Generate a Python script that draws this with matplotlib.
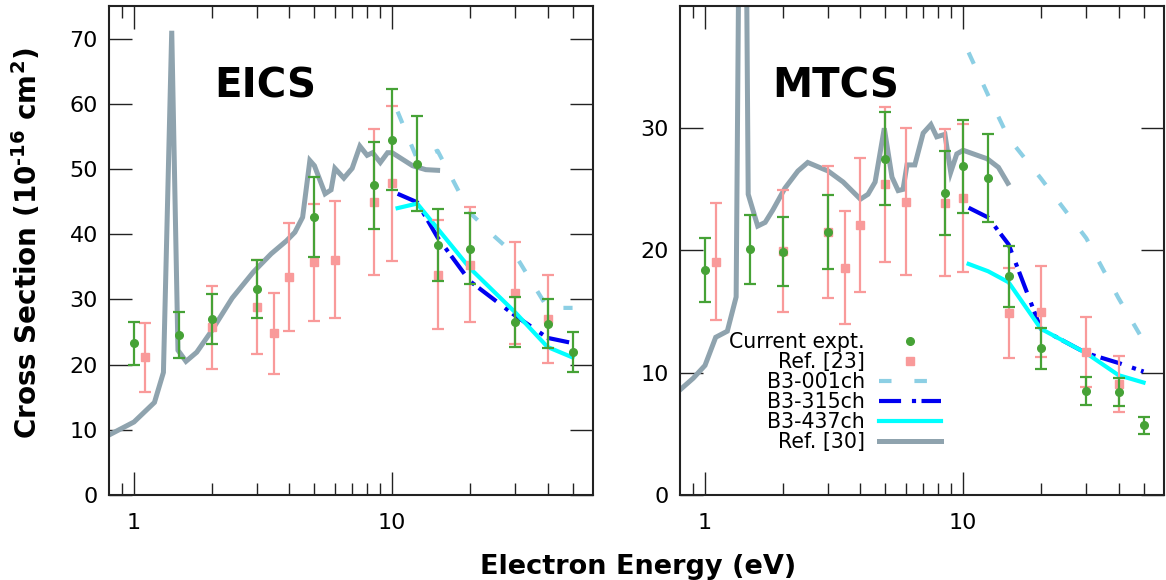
import matplotlib
matplotlib.use("Agg")
import matplotlib.pyplot as plt
from matplotlib.lines import Line2D
from matplotlib.ticker import FixedLocator, NullFormatter, FixedFormatter

plt.rcParams['font.family'] = ['DejaVu Sans']

# ---------------- data: EICS (left panel) ----------------
eics_exp_E = [1.0, 1.5, 2.0, 3.0, 5.0, 8.5, 10.0, 12.5, 15.0, 20.0, 30.0, 40.0, 50.0]
eics_exp_v = [23.3, 24.5, 27.0, 31.6, 42.6, 47.5, 54.5, 50.8, 38.3, 37.8, 26.5, 26.3, 21.9]
eics_exp_err = [3.3, 3.5, 3.9, 4.5, 6.1, 6.7, 7.7, 7.3, 5.5, 5.4, 3.8, 3.7, 3.1]

eics_r23_E = [1.1, 2.0, 3.0, 3.5, 4.0, 5.0, 6.0, 8.5, 10.0, 15.0, 20.0, 30.0, 40.0]
eics_r23_v = [21.1, 25.7, 28.9, 24.8, 33.4, 35.7, 36.1, 44.9, 47.8, 33.8, 35.3, 31.0, 27.0]
eics_r23_err = [5.3, 6.4, 7.2, 6.2, 8.3, 9.0, 9.0, 11.2, 11.9, 8.4, 8.8, 7.8, 6.7]

eics_001_E = [10.5, 12.5, 15.0, 20.0, 25.0, 30.0, 40.0, 50.0]
eics_001_v = [58.8, 51.5, 52.8, 43.3, 39.6, 36.8, 28.7, 28.7]
eics_315_E = [10.5, 12.5, 15.0, 20.0, 30.0, 40.0, 50.0]
eics_315_v = [46.2, 44.9, 39.5, 32.8, 27.5, 24.1, 23.3]
eics_437_E = [10.5, 12.5, 20.0, 30.0, 40.0, 50.0]
eics_437_v = [44.0, 44.7, 34.8, 28.0, 22.7, 21.1]

eics_r30_E = [0.8, 1.0, 1.2, 1.3, 1.4, 1.48, 1.59, 1.75, 2.0, 2.4, 2.9, 3.4, 3.9, 4.2,
              4.5, 4.8, 5.0, 5.5, 5.8, 6.0, 6.5, 7.0, 7.5, 8.0, 8.4, 9.0, 9.6, 10.0,
              12.0, 13.5, 15.0]
eics_r30_v = [9.2, 11.2, 14.2, 18.8, 71.2, 22.2, 20.5, 21.9, 25.2, 30.2, 34.2, 37.0, 39.0, 40.3,
              42.6, 51.3, 50.5, 46.2, 46.8, 50.1, 48.6, 50.1, 53.5, 52.1, 52.5, 51.0, 52.5, 52.5,
              50.5, 49.9, 49.8]

# ---------------- data: MTCS (right panel) ----------------
mtcs_exp_E = [1.0, 1.5, 2.0, 3.0, 5.0, 8.5, 10.0, 12.5, 15.0, 20.0, 30.0, 40.0, 50.0]
mtcs_exp_v = [18.4, 20.1, 19.9, 21.5, 27.5, 24.7, 26.9, 25.9, 17.9, 12.0, 8.5, 8.4, 5.7]
mtcs_exp_err = [2.6, 2.8, 2.8, 3.0, 3.8, 3.4, 3.8, 3.6, 2.5, 1.7, 1.15, 1.15, 0.7]

mtcs_r23_E = [1.1, 2.0, 3.0, 3.5, 4.0, 5.0, 6.0, 8.5, 10.0, 15.0, 20.0, 30.0, 40.0]
mtcs_r23_v = [19.1, 19.95, 21.5, 18.6, 22.1, 25.4, 24.0, 23.9, 24.3, 14.9, 15.0, 11.7, 9.1]
mtcs_r23_err = [4.75, 5.0, 5.4, 4.6, 5.5, 6.35, 6.0, 6.0, 6.05, 3.7, 3.75, 2.9, 2.3]

mtcs_001_E = [10.5, 12.5, 15.0, 20.0, 30.0, 40.0, 50.0]
mtcs_001_v = [36.2, 32.7, 29.2, 25.9, 21.0, 16.1, 12.6]
mtcs_315_E = [10.5, 12.5, 15.0, 20.0, 30.0, 40.0, 50.0]
mtcs_315_v = [23.5, 22.7, 20.5, 13.6, 11.6, 10.8, 10.1]
mtcs_437_E = [10.5, 12.5, 15.0, 20.0, 30.0, 40.0, 50.0]
mtcs_437_v = [18.9, 18.3, 17.4, 13.6, 11.6, 9.8, 9.2]

mtcs_r30_E = [0.8, 0.9, 1.0, 1.1, 1.22, 1.32, 1.4, 1.47, 1.6, 1.71, 1.83, 2.04, 2.29, 2.5,
              3.0, 3.43, 4.0, 4.28, 4.56, 4.95, 5.3, 5.6, 5.85, 6.06, 6.5, 7.0, 7.5, 7.9,
              8.5, 8.95, 9.45, 10.0, 11.3, 12.4, 13.7, 14.9]
mtcs_r30_v = [8.6, 9.55, 10.6, 12.9, 13.4, 16.2, 85.0, 24.6, 22.0, 22.3, 23.3, 25.1, 26.5, 27.2,
              26.5, 25.6, 24.2, 24.6, 25.6, 30.0, 26.0, 24.9, 25.0, 27.0, 27.0, 29.6, 30.3, 29.3,
              29.5, 26.4, 27.9, 28.2, 27.8, 27.5, 26.8, 25.5]

legend_labels = ['Current expt.', 'Ref. [23]', 'B3-001ch', 'B3-315ch', 'B3-437ch', 'Ref. [30]']
panel_titles = ['EICS', 'MTCS']
x_major = [1, 10]
x_minor = [0.9, 2, 3, 4, 5, 6, 7, 8, 9, 20, 30, 40, 50]

# ---------------- styles ----------------
C_EXP = '#46a236'
C_R23 = '#f99a9a'
C_001 = '#8ccfe4'
C_315 = '#0000f0'
C_437 = '#00ffff'
C_R30 = '#8fa3ae'
SPINE = '#222222'

W, H = 1166, 580
fig = plt.figure(figsize=(W / 100, H / 100), dpi=100)


def px_axes(x0, x1, ytop, ybot):
    return fig.add_axes([x0 / W, 1 - ybot / H, (x1 - x0) / W, (ybot - ytop) / H])


axL = px_axes(109, 593, 6, 495)
axR = px_axes(680, 1164, 6, 495)


def draw(ax, r30E, r30v, e001, v001, e315, v315, e437, v437,
         r23E, r23v, r23err, expE, expv, experr):
    ax.plot(r30E, r30v, color=C_R30, lw=3.6, zorder=2, solid_joinstyle='miter')
    ax.plot(e001, v001, color=C_001, lw=3, dashes=[3, 5.5], zorder=3)
    ax.plot(e315, v315, color=C_315, lw=3, dashes=[5.3, 2.6, 1.0, 1.3], zorder=3)
    ax.plot(e437, v437, color=C_437, lw=3, zorder=3)
    ax.errorbar(r23E, r23v, yerr=r23err, fmt='s', color=C_R23, ms=5.5, elinewidth=1.6,
                capsize=4, capthick=1.6, zorder=4)
    ax.errorbar(expE, expv, yerr=experr, fmt='o', color=C_EXP, ms=5.5, elinewidth=1.6,
                capsize=4, capthick=1.6, zorder=5)


draw(axL, eics_r30_E, eics_r30_v, eics_001_E, eics_001_v, eics_315_E, eics_315_v,
     eics_437_E, eics_437_v, eics_r23_E, eics_r23_v, eics_r23_err,
     eics_exp_E, eics_exp_v, eics_exp_err)
draw(axR, mtcs_r30_E, mtcs_r30_v, mtcs_001_E, mtcs_001_v, mtcs_315_E, mtcs_315_v,
     mtcs_437_E, mtcs_437_v, mtcs_r23_E, mtcs_r23_v, mtcs_r23_err,
     mtcs_exp_E, mtcs_exp_v, mtcs_exp_err)

for ax, ymax, yt in [(axL, 75, [0, 10, 20, 30, 40, 50, 60, 70]), (axR, 40, [0, 10, 20, 30])]:
    ax.set_xscale('log')
    ax.set_xlim(0.8, 60)
    ax.set_ylim(0, ymax)
    ax.xaxis.set_major_locator(FixedLocator(x_major))
    ax.xaxis.set_major_formatter(FixedFormatter([str(v) for v in x_major]))
    ax.xaxis.set_minor_locator(FixedLocator(x_minor))
    ax.xaxis.set_minor_formatter(NullFormatter())
    ax.set_yticks(yt)
    ax.tick_params(axis='both', which='major', direction='in', length=16.5, width=1.0,
                   color=SPINE, labelsize=16, top=True, right=True)
    ax.tick_params(axis='x', which='minor', direction='in', length=8.5, width=1.0,
                   color=SPINE, top=True)
    ax.tick_params(axis='y', which='major', pad=8)
    ax.tick_params(axis='x', which='major', pad=13)
    for s in ax.spines.values():
        s.set_linewidth(1.5)
        s.set_color(SPINE)

axL.text(265 / W, 1 - 86 / H, panel_titles[0], transform=fig.transFigure, fontsize=29,
         fontweight='bold', ha='center', va='center')
axR.text(836 / W, 1 - 86 / H, panel_titles[1], transform=fig.transFigure, fontsize=29,
         fontweight='bold', ha='center', va='center')

fig.text(27 / W, 1 - 243 / H, 'Cross Section (10$^{\\mathbf{\u201016}}$ cm$^{\\mathbf{2}}$)',
         rotation=90, fontsize=20, fontweight='bold', ha='center', va='center')
fig.text(638 / W, 1 - 567 / H, 'Electron Energy (eV)', fontsize=19.5, fontweight='bold',
         ha='center', va='center')

handles = [
    Line2D([], [], ls='none', marker='o', color=C_EXP, ms=5.5),
    Line2D([], [], ls='none', marker='s', color=C_R23, ms=5.5),
    Line2D([], [], color=C_001, lw=3, dashes=[3, 5.5]),
    Line2D([], [], color=C_315, lw=3, dashes=[5.3, 2.6, 1.0, 1.3]),
    Line2D([], [], color=C_437, lw=3),
    Line2D([], [], color=C_R30, lw=3.6),
]
fig.legend(handles, legend_labels, loc='upper right', bbox_to_anchor=(941 / W, 1 - 332 / H),
           frameon=False, markerfirst=False, fontsize=14.8, handlelength=3.0,
           handletextpad=0.7, labelspacing=0.0, borderpad=0, borderaxespad=0, numpoints=1)

fig.savefig('out.png', dpi=100)
